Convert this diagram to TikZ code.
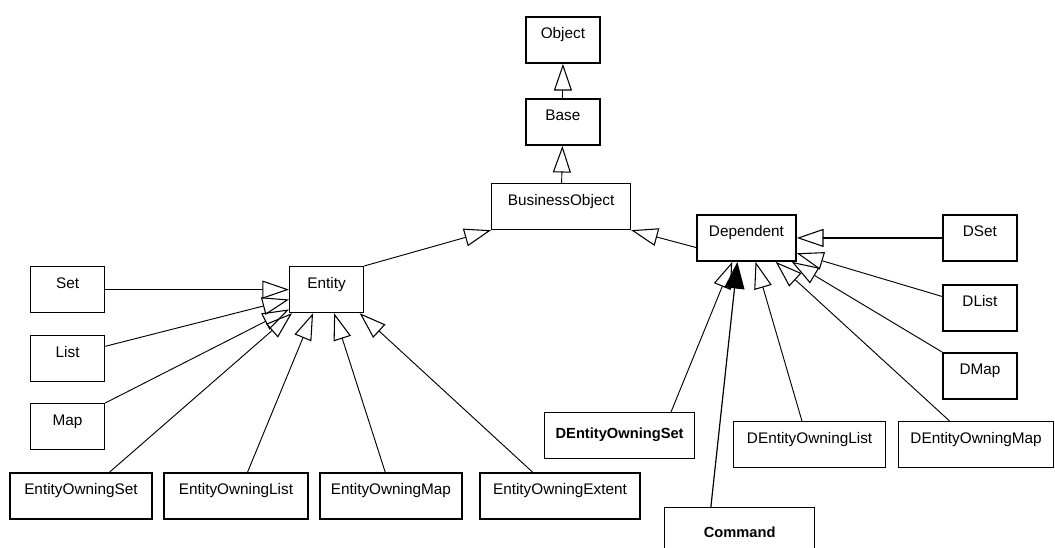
\documentclass[tikz,border=0pt]{standalone}
\usepackage{fontspec}
\setmainfont{Liberation Sans}
\usetikzlibrary{arrows.meta,calc}

\tikzset{
  cls/.style={draw, line width=0.9pt, inner sep=0pt, anchor=north west,
    minimum width=55.5pt, minimum height=34.5pt,
    text height=16.5pt, text depth=18pt, font=\fontsize{11.5}{13}\selectfont},
  heavy/.style={line width=1.4pt},
  boldcls/.style={cls, text height=19.5pt, text depth=15pt,
    font=\fontsize{11}{13}\selectfont\bfseries},
  gen/.style={-{Triangle[open, length=20pt, width=13.5pt, line width=0.8pt]}, line width=0.7pt},
  uses/.style={-{Triangle[length=20pt, width=15pt]}, line width=0.9pt},
}

\begin{document}
\begin{tikzpicture}[x=0.75pt, y=-0.75pt]
    \path[use as bounding box, clip] (0,0) rectangle (1055,548);

    % Top of the hierarchy
    \node[cls, heavy] (object) at (525,16) {Object};
    \node[cls, heavy] (base) at (525,98) {Base};
    \node[cls, minimum width=104.25pt] (busobj) at (491,183) {BusinessObject};

    % Entity side
    \node[cls] (entity) at (289,266) {Entity};
    \node[cls] (set) at (30,266) {Set};
    \node[cls] (list) at (30,335) {List};
    \node[cls] (map) at (30,403) {Map};
    \node[cls, heavy, minimum width=106.5pt] (eoset) at (9,472) {EntityOwningSet};
    \node[cls, heavy, minimum width=108pt] (eolist) at (163,472) {EntityOwningList};
    \node[cls, heavy, minimum width=106.5pt] (eomap) at (319,472) {EntityOwningMap};
    \node[cls, heavy, minimum width=120pt] (eoextent) at (479,472) {EntityOwningExtent};

    % Dependent side
    \node[cls, heavy, minimum width=74.25pt] (dep) at (696,214) {Dependent};
    \node[cls, heavy] (dset) at (942,214) {DSet};
    \node[cls, heavy] (dlist) at (942,284) {DList};
    \node[cls, heavy] (dmap) at (942,352) {DMap};
    \node[boldcls, minimum width=112.5pt] (deoset) at (544,412) {DEntityOwningSet};
    \node[cls, minimum width=114pt] (deolist) at (733,421) {DEntityOwningList};
    \node[cls, minimum width=116.25pt] (deomap) at (898,421) {DEntityOwningMap};
    \node[boldcls, minimum width=112.5pt, text height=22.5pt, text depth=12pt] (command) at (664,507) {Command};

    % Generalisations
    \draw[gen] (base) -- (object);
    \draw[gen] (busobj) -- (base);
    \draw[gen] (entity.north east) -- (busobj.south west);
    \draw[gen] ($(dep.north west)!0.7!(dep.south west)$) -- (busobj.south east);

    \draw[gen, line width=0.9pt] (set) -- (entity.west);
    \draw[gen] ($(list.north east)!0.24!(list.south east)$) -- ($(entity.north west)!0.71!(entity.south west)$);
    \draw[gen] (map.north east) -- ($(entity.north west)!0.92!(entity.south west)$);
    \draw[gen] ($(eoset.north west)!0.7!(eoset.north east)$) -- ($(entity.south west)!0.04!(entity.south east)$);
    \draw[gen] ($(eolist.north west)!0.58!(eolist.north east)$) -- ($(entity.south west)!0.32!(entity.south east)$);
    \draw[gen] ($(eomap.north west)!0.46!(eomap.north east)$) -- ($(entity.south west)!0.6!(entity.south east)$);
    \draw[gen] ($(eoextent.north west)!0.33!(eoextent.north east)$) -- ($(entity.south west)!0.94!(entity.south east)$);

    \draw[gen, line width=2pt] (dset) -- (dep.east);
    \draw[gen] ($(dlist.north west)!0.26!(dlist.south west)$) -- ($(dep.north east)!0.82!(dep.south east)$);
    \draw[gen] (dmap.north west) -- ($(dep.south west)!0.95!(dep.south east)$);
    \draw[gen] ($(deomap.north west)!0.33!(deomap.north east)$) -- ($(dep.south west)!0.79!(dep.south east)$);
    \draw[gen] ($(deolist.north west)!0.45!(deolist.north east)$) -- ($(dep.south west)!0.59!(dep.south east)$);
    \draw[gen] ($(deoset.north west)!0.84!(deoset.north east)$) -- ($(dep.south west)!0.36!(dep.south east)$);

    % Command
    \draw[uses] ($(command.north west)!0.31!(command.north east)$) -- ($(dep.south west)!0.41!(dep.south east)$);
\end{tikzpicture}
\end{document}
